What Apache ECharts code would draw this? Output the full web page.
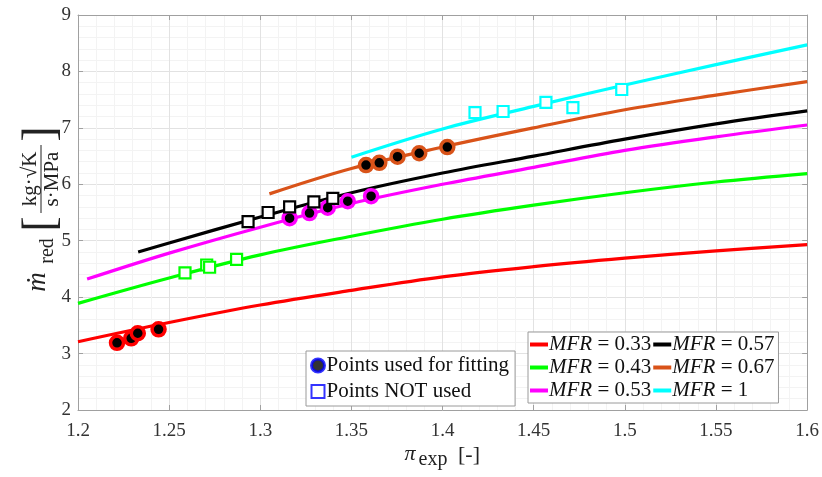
<!DOCTYPE html>
<html><head><meta charset="utf-8">
<script src="https://cdn.jsdelivr.net/npm/echarts@6/dist/echarts.min.js"></script>
<style>html,body{margin:0;padding:0;background:#fff}#c{width:822px;height:477px}</style>
</head><body><div id="c"></div>
<script>
// ---- data ----
const mfrLabels = ['0.33', '0.43', '0.53', '0.57', '0.67', '1'];
const lineMFR033 = [[1.2,3.21],[1.25,3.55],[1.3,3.86],[1.35,4.12],[1.4,4.36],[1.45,4.54],[1.5,4.69],[1.55,4.82],[1.6,4.93]];
const lineMFR043 = [[1.2,3.89],[1.25,4.34],[1.3,4.75],[1.35,5.08],[1.4,5.38],[1.45,5.63],[1.5,5.85],[1.55,6.04],[1.6,6.19]];
const lineMFR053 = [[1.205,4.32],[1.25,4.78],[1.3,5.24],[1.35,5.66],[1.4,6.0],[1.45,6.3],[1.5,6.6],[1.55,6.84],[1.6,7.05]];
const lineMFR057 = [[1.233,4.8],[1.25,4.96],[1.3,5.42],[1.35,5.85],[1.4,6.2],[1.45,6.5],[1.5,6.8],[1.55,7.07],[1.6,7.3]];
const lineMFR067 = [[1.305,5.83],[1.35,6.28],[1.4,6.66],[1.45,7.0],[1.5,7.32],[1.55,7.58],[1.6,7.82]];
const lineMFR1   = [[1.35,6.48],[1.4,6.98],[1.45,7.38],[1.5,7.76],[1.55,8.12],[1.6,8.47]];

const usedMFR033    = [[1.2214,3.19],[1.2292,3.27],[1.2328,3.36],[1.2442,3.43]];
const notUsedMFR043 = [[1.2587,4.43],[1.2706,4.57],[1.2722,4.53],[1.287,4.67]];
const usedMFR053    = [[1.3161,5.40],[1.327,5.49],[1.337,5.585],[1.348,5.70],[1.3608,5.79]];
const notUsedMFR057 = [[1.2933,5.34],[1.3043,5.50],[1.3161,5.60],[1.3294,5.69],[1.3398,5.75]];
const usedMFR067    = [[1.358,6.34],[1.3653,6.38],[1.3753,6.49],[1.3872,6.55],[1.4026,6.66]];
const notUsedMFR1   = [[1.4178,7.27],[1.4332,7.29],[1.4567,7.45],[1.4715,7.36],[1.4983,7.68]];

const xTickMin = 1.2, xTickMax = 1.6, xTickStep = 0.05;
const yTickMin = 2, yTickMax = 9, yTickStep = 1;
const legendUsed = 'Points used for fitting';
const legendNotUsed = 'Points NOT used';

// ---- styles ----
const colors = ['#ff0000', '#00ff00', '#ff00ff', '#000000', '#d95319', '#00ffff'];
const lines = [lineMFR033, lineMFR043, lineMFR053, lineMFR057, lineMFR067, lineMFR1];
const FONT = '"Liberation Serif", "DejaVu Serif", serif';
const names = mfrLabels.map(v => 'MFR = ' + v);

const series = [];
lines.forEach((d, i) => {
  series.push({
    type: 'line', name: names[i], data: d, smooth: 0.35, showSymbol: false,
    lineStyle: { color: colors[i], width: 3.2 }, itemStyle: { color: colors[i] }, z: 2, silent: true
  });
});
function circles(d, c) {
  return { type: 'scatter', data: d, symbol: 'circle', symbolSize: 13, z: 3, silent: true,
    itemStyle: { color: '#000', borderColor: c, borderWidth: 3.5, opacity: 1 } };
}
function squares(d, c) {
  return { type: 'scatter', data: d, symbol: 'rect', symbolSize: 11, z: 4, silent: true,
    itemStyle: { color: '#fff', borderColor: c, borderWidth: 2.2, opacity: 1 } };
}
series.push(circles(usedMFR033, colors[0]));
series.push(squares(notUsedMFR043, colors[1]));
series.push(circles(usedMFR053, colors[2]));
series.push(squares(notUsedMFR057, colors[3]));
series.push(circles(usedMFR067, colors[4]));
series.push(squares(notUsedMFR1, colors[5]));
series.push({ type: 'scatter', name: legendUsed, data: [], itemStyle: { color: '#000', borderColor: '#0000ff', borderWidth: 3 } });
series.push({ type: 'scatter', name: legendNotUsed, data: [], itemStyle: { color: '#fff', borderColor: '#0000ff', borderWidth: 2 } });

const axisGray = '#a0a0a0';
const baseAxis = {
  axisLine: { show: true, lineStyle: { color: axisGray, width: 1 } },
  axisTick: { show: true, inside: true, length: 5, lineStyle: { color: axisGray } },
  splitLine: { show: false }, axisLabel: { show: false }
};

const chart = echarts.init(document.getElementById('c'), null, { renderer: 'canvas' });
chart.setOption({
  animation: false,
  backgroundColor: '#fff',
  grid: { left: 78, right: 14, top: 15, bottom: 67, containLabel: false },
  xAxis: [
    { type: 'value', min: xTickMin, max: xTickMax, interval: xTickStep, position: 'bottom',
      axisLine: { show: true, onZero: false, lineStyle: { color: axisGray, width: 1 } },
      axisTick: { show: true, inside: true, length: 5, lineStyle: { color: axisGray } },
      axisLabel: { color: '#333', fontSize: 19, fontFamily: FONT, margin: 12,
        formatter: v => String(+v.toFixed(2)) },
      splitLine: { show: true, lineStyle: { color: '#e2e2e2', width: 1 } },
      minorTick: { show: false, splitNumber: 5 },
      minorSplitLine: { show: true, lineStyle: { color: '#f3f3f3', width: 1 } } },
    Object.assign({ type: 'value', min: xTickMin, max: xTickMax, interval: xTickStep, position: 'top' }, baseAxis)
  ],
  yAxis: [
    { type: 'value', min: yTickMin, max: yTickMax, interval: yTickStep, position: 'left',
      axisLine: { show: true, onZero: false, lineStyle: { color: axisGray, width: 1 } },
      axisTick: { show: true, inside: true, length: 5, lineStyle: { color: axisGray } },
      axisLabel: { color: '#333', fontSize: 19, fontFamily: FONT, margin: 7 },
      splitLine: { show: true, lineStyle: { color: '#e2e2e2', width: 1 } },
      minorTick: { show: false, splitNumber: 5 },
      minorSplitLine: { show: true, lineStyle: { color: '#f3f3f3', width: 1 } } },
    Object.assign({ type: 'value', min: yTickMin, max: yTickMax, interval: yTickStep, position: 'right' }, baseAxis)
  ],
  legend: [
    { orient: 'vertical', left: 306, top: 351, padding: [4, 6, 4, 4], itemGap: 5,
      backgroundColor: '#fff', borderColor: '#9a9a9a', borderWidth: 1, selectedMode: false,
      itemWidth: 13, itemHeight: 13,
      textStyle: { fontFamily: FONT, fontSize: 21, color: '#111', padding: [0, 0, 0, -3] },
      data: [
        { name: legendUsed, icon: 'circle', itemStyle: { color: '#000', borderColor: '#0000ff', borderWidth: 3 } },
        { name: legendNotUsed, icon: 'rect', itemStyle: { color: '#fff', borderColor: '#0000ff', borderWidth: 2 } }
      ] },
    { orient: 'horizontal', left: 528, top: 332, width: 256, padding: [2, 4, 2, 2], itemGap: 2,
      backgroundColor: '#fff', borderColor: '#9a9a9a', borderWidth: 1, selectedMode: false,
      icon: 'rect', itemWidth: 18, itemHeight: 4,
      textStyle: { fontFamily: FONT, fontSize: 21, color: '#111', padding: [0, 0, 0, -4],
        rich: { i: { fontFamily: FONT, fontSize: 21, fontStyle: 'italic', color: '#111' } } },
      formatter: n => '{i|MFR} = ' + n.split('= ')[1],
      data: [names[0], names[3], names[1], names[4], names[2], names[5]] }
  ],
  graphic: [
    { type: 'group', x: 41, y: 215, rotation: Math.PI / 2, silent: true, children: [
      { type: 'text', x: -67, y: -3, style: { text: 'ṁ', font: 'italic 27px ' + FONT, fill: '#222', align: 'center', verticalAlign: 'middle' } },
      { type: 'text', x: -36, y: 7, style: { text: 'red', font: '20px ' + FONT, fill: '#222', align: 'center', verticalAlign: 'middle' } },
      { type: 'text', x: -9, y: 1, style: { text: '[', font: '46px ' + FONT, fill: '#222', align: 'center', verticalAlign: 'middle' } },
      { type: 'text', x: 36, y: -11, style: { text: 'kg·√K', font: '21px ' + FONT, fill: '#222', align: 'center', verticalAlign: 'middle' } },
      { type: 'line', shape: { x1: 2, y1: 0, x2: 70, y2: 0 }, style: { stroke: '#222', lineWidth: 1 } },
      { type: 'text', x: 36, y: 11, style: { text: 's·MPa', font: '21px ' + FONT, fill: '#222', align: 'center', verticalAlign: 'middle' } },
      { type: 'text', x: 81, y: 1, style: { text: ']', font: '46px ' + FONT, fill: '#222', align: 'center', verticalAlign: 'middle' } }
    ] },
    { type: 'text', x: 410, y: 454, silent: true, style: { text: 'π', font: 'italic 22px ' + FONT, fill: '#222', align: 'center', verticalAlign: 'middle' } },
    { type: 'text', x: 433, y: 460, silent: true, style: { text: 'exp', font: '20px ' + FONT, fill: '#222', align: 'center', verticalAlign: 'middle' } },
    { type: 'text', x: 469, y: 455, silent: true, style: { text: '[-]', font: '22px ' + FONT, fill: '#222', align: 'center', verticalAlign: 'middle' } }
  ],
  series: series
});
</script></body></html>
